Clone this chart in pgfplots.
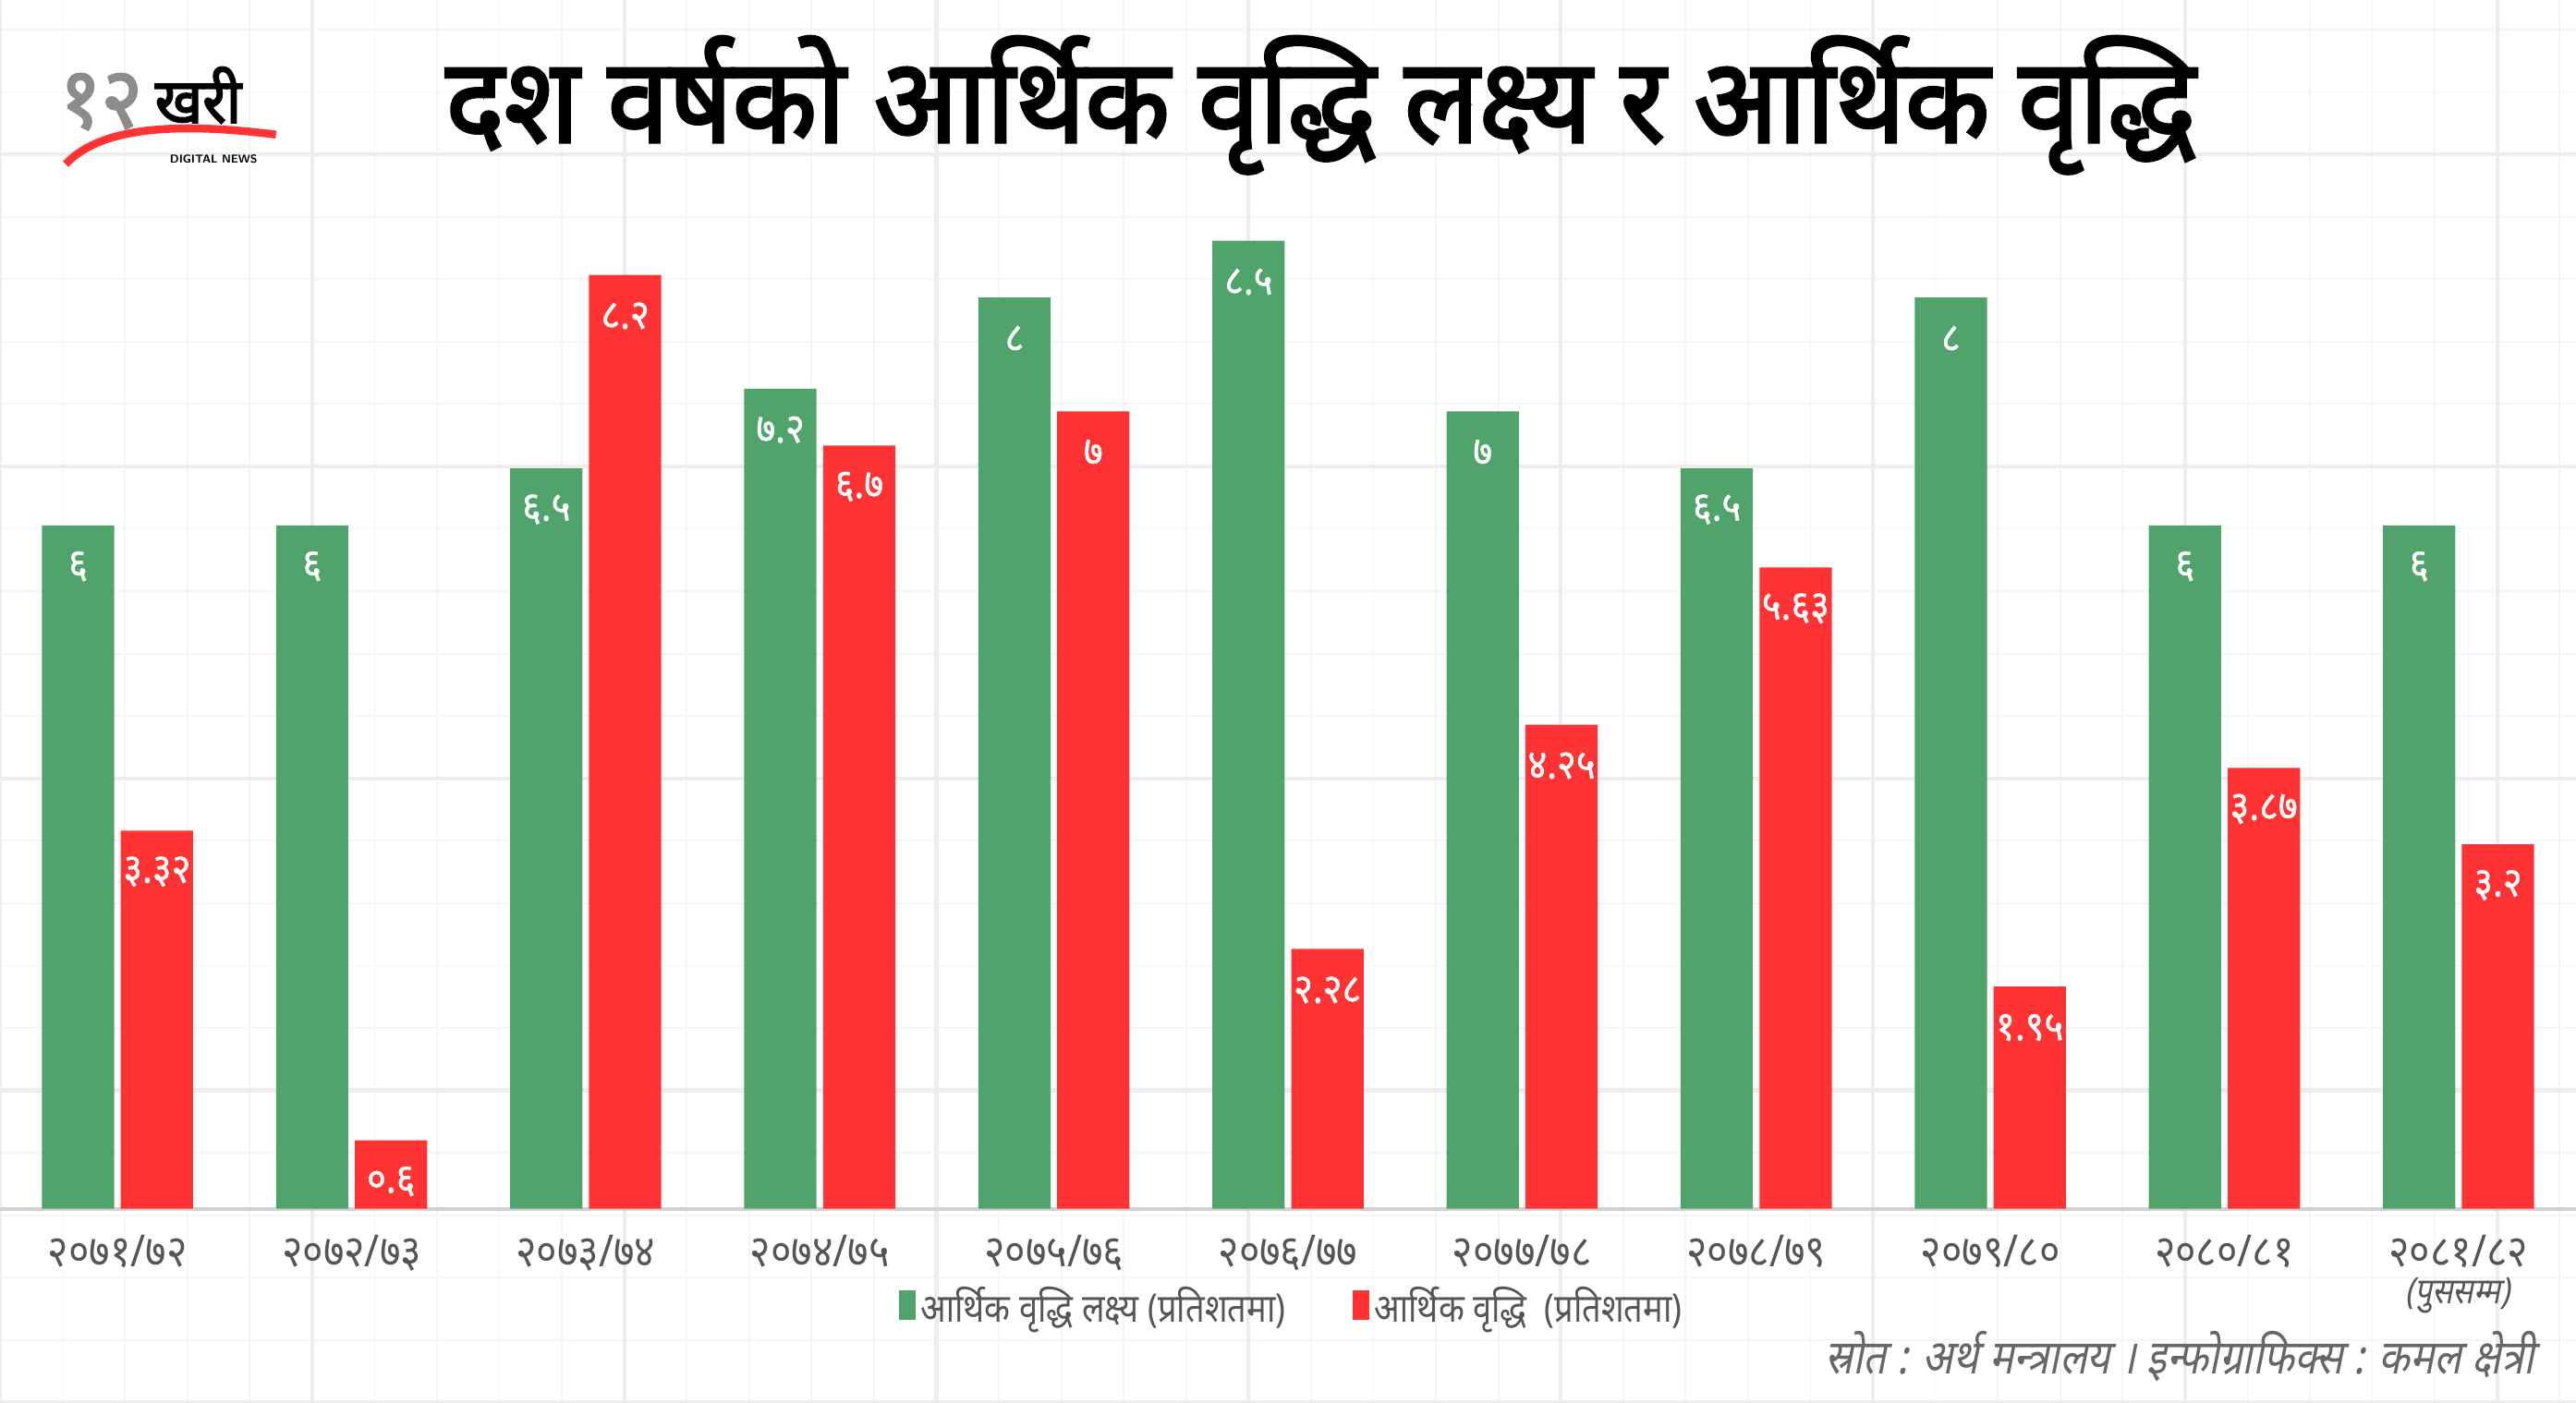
\documentclass[border=0pt]{standalone}
\usepackage{pgfplots}
\pgfplotsset{compat=1.18}
\usepackage{fontspec}
\setmainfont{Noto Sans}[Script=Devanagari]
\newfontfamily\devfont[Script=Devanagari, FakeStretch=0.85]{Noto Sans}
\newfontfamily\devtick[Script=Devanagari, FakeStretch=0.9]{Noto Sans}
\newfontfamily\devlab[Script=Devanagari, FakeStretch=0.9, FakeBold=1]{Noto Sans}
\newfontfamily\devbold[Script=Devanagari, FakeStretch=0.93, FakeBold=2.5]{Noto Sans}
\newfontfamily\devslant[Script=Devanagari, FakeStretch=0.85, FakeSlant=0.2]{Noto Sans}
\definecolor{tgreen}{HTML}{4FA36B}
\definecolor{tred}{HTML}{FF3333}
\definecolor{tgray}{HTML}{555555}
\begin{document}
\begin{tikzpicture}
\useasboundingbox (0,0) rectangle (784pt,427pt);
\begin{scope}
\clip (0,0) rectangle (784pt,427pt);
\draw[color=black!4, line width=0.5pt] (0,0) grid[step=19pt] (784pt,427pt);
\draw[color=black!7, line width=1.2pt] (0,0) grid[step=95pt] (784pt,427pt);
\end{scope}
\begin{axis}[
  at={(0pt,59pt)}, anchor=south west,
  scale only axis, width=784pt, height=318pt,
  xmin=-0.502, xmax=10.502, ymin=0, ymax=9.171,
  ybar=2pt, bar width=22pt,
  axis x line*=bottom, axis y line=none,
  x axis line style={draw=black!18, line width=1.2pt},
  xtick={0,...,10}, xtick style={draw=none}, ytick=\empty,
  xticklabels={२०७१/७२,२०७२/७३,२०७३/७४,२०७४/७५,२०७५/७६,२०७६/७७,२०७७/७८,२०७८/७९,२०७९/८०,२०८०/८१,२०८१/८२},
  xticklabel style={font=\devtick\fontsize{13.5}{13.5}\selectfont, text=tgray, anchor=base, yshift=-13.5pt, inner sep=0pt},
  point meta=explicit symbolic,
  nodes near coords,
  every node near coord/.append style={font=\devlab\fontsize{12.5}{12.5}\selectfont, text=white, anchor=center, yshift=-12.5pt},
  legend columns=2,
  legend style={at={(0.502,-0.0943)}, anchor=center, draw=none, fill=none,
    font=\devfont\fontsize{12}{12}\selectfont, text=tgray,
    /tikz/every even column/.append style={column sep=19pt},
    nodes={inner sep=1.5pt}},
  legend image code/.code={\fill[#1] (0pt,-4pt) rectangle (5pt,5pt);},
]
\addplot[fill=tgreen, draw=none] coordinates {(0,6)[६] (1,6)[६] (2,6.5)[६.५] (3,7.2)[७.२] (4,8)[८] (5,8.5)[८.५] (6,7)[७] (7,6.5)[६.५] (8,8)[८] (9,6)[६] (10,6)[६]};
\addplot[fill=tred, draw=none] coordinates {(0,3.32)[३.३२] (1,0.6)[०.६] (2,8.2)[८.२] (3,6.7)[६.७] (4,7)[७] (5,2.28)[२.२८] (6,4.25)[४.२५] (7,5.63)[५.६३] (8,1.95)[१.९५] (9,3.87)[३.८७] (10,3.2)[३.२]};
\legend{आर्थिक वृद्धि लक्ष्य (प्रतिशतमा), आर्थिक वृद्धि\ \ (प्रतिशतमा)}
\end{axis}
% title
\node[font=\devbold\fontsize{36}{36}\selectfont, text=black] at (402pt,395pt) {दश वर्षको आर्थिक वृद्धि लक्ष्य र आर्थिक वृद्धि};
% logo
\draw[tred, line width=2.4pt] (20pt,377pt) .. controls (32pt,390pt) and (60pt,389pt) .. (84pt,386pt);
\node[anchor=west, font=\devbold\fontsize{26}{26}\selectfont, text=black!45, inner sep=0pt] at (18pt,396pt) {१२};
\node[anchor=west, font=\devbold\fontsize{19}{19}\selectfont, text=black, inner sep=0pt] at (47pt,398pt) {खरी};
\node[font=\sffamily\bfseries\fontsize{3.5}{3.5}\selectfont, text=black, inner sep=0pt] at (65pt,378.5pt) {DIGITAL NEWS};
% note and source
\node[font=\devslant\fontsize{11}{11}\selectfont, text=tgray, inner sep=0pt] at (748pt,32.5pt) {(पुससम्म)};
\node[anchor=east, font=\devslant\fontsize{14.5}{14.5}\selectfont, text=black!60, inner sep=0pt] at (771.5pt,14pt) {स्रोत : अर्थ मन्त्रालय । इन्फोग्राफिक्स : कमल क्षेत्री};
\end{tikzpicture}
\end{document}
